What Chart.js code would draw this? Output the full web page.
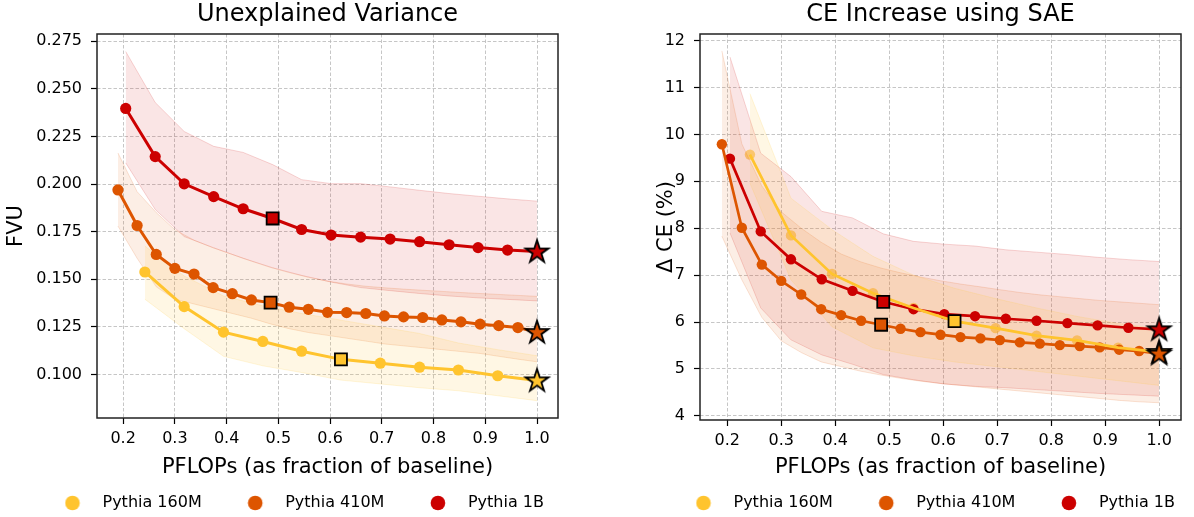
<!DOCTYPE html>
<html lang="en">
<head>
<meta charset="UTF-8">
<title>Unexplained Variance / CE Increase using SAE</title>
<script src="https://cdn.jsdelivr.net/npm/chart.js"></script>
<style>
  body { margin: 0; background: #fff; }
  #wrap { position: relative; width: 1194px; height: 517px; }
  canvas { position: absolute; top: 0; }
  #fvu { left: 0; }
  #ce { left: 597px; }
</style>
</head>
<body>
<div id="wrap">
  <canvas id="fvu" width="597" height="517"></canvas>
  <canvas id="ce" width="597" height="517"></canvas>
</div>
<script>
// ---- data ----
const seriesNames = ['Pythia 160M', 'Pythia 410M', 'Pythia 1B'];
const seriesRGB = [[255, 196, 46], [221, 85, 0], [204, 0, 0]];
const xTicks = [0.2, 0.3, 0.4, 0.5, 0.6, 0.7, 0.8, 0.9, 1.0];
const fvuTicks = [0.100, 0.125, 0.150, 0.175, 0.200, 0.225, 0.250, 0.275];
const ceTicks = [4, 5, 6, 7, 8, 9, 10, 11, 12];

const flops160 = [0.242, 0.318, 0.394, 0.470, 0.545, 0.621, 0.697, 0.773, 0.848, 0.924, 1.0];
const flops410 = [0.190, 0.227, 0.264, 0.300, 0.337, 0.374, 0.411, 0.448, 0.485, 0.521, 0.558, 0.595,
                  0.632, 0.669, 0.705, 0.742, 0.779, 0.816, 0.853, 0.890, 0.926, 0.963, 1.0];
const flops1b = [0.205, 0.262, 0.318, 0.375, 0.432, 0.489, 0.545, 0.602, 0.659, 0.716, 0.773, 0.830, 0.886, 0.943, 1.0];

// index of the square marker in each series (star is always the last point)
const squareIndex = [5, 8, 5];

// FVU
const fvu160 = [0.1538, 0.1356, 0.1222, 0.1173, 0.1122, 0.1079, 0.1059, 0.1038, 0.1023, 0.0993, 0.0968];
const fvu160Lo = [0.1395, 0.1240, 0.1095, 0.1045, 0.1010, 0.0970, 0.0950, 0.0930, 0.0914, 0.0888, 0.0862];
const fvu160Hi = [0.1674, 0.1517, 0.1412, 0.1360, 0.1320, 0.1285, 0.1250, 0.1215, 0.1165, 0.1130, 0.1098];

const fvu410 = [0.1969, 0.1782, 0.1630, 0.1557, 0.1527, 0.1456, 0.1424, 0.1391, 0.1377, 0.1353, 0.1342, 0.1326,
                0.1325, 0.1320, 0.1307, 0.1302, 0.1299, 0.1286, 0.1276, 0.1264, 0.1256, 0.1246, 0.1222];
const fvu410Lo = [0.1779, 0.1610, 0.1460, 0.1395, 0.1370, 0.1345, 0.1320, 0.1295, 0.1265, 0.1240, 0.1220, 0.1205,
                  0.1190, 0.1175, 0.1160, 0.1150, 0.1140, 0.1130, 0.1120, 0.1110, 0.1095, 0.1080, 0.1066];
const fvu410Hi = [0.2163, 0.1960, 0.1850, 0.1760, 0.1705, 0.1665, 0.1630, 0.1595, 0.1562, 0.1535, 0.1510, 0.1490,
                  0.1475, 0.1463, 0.1455, 0.1448, 0.1442, 0.1436, 0.1430, 0.1425, 0.1420, 0.1415, 0.1410];

const fvu1b = [0.2397, 0.2144, 0.2001, 0.1934, 0.1870, 0.1819, 0.1761, 0.1732, 0.1721, 0.1711, 0.1697, 0.1681, 0.1666, 0.1653, 0.1645];
const fvu1bLo = [0.2111, 0.1866, 0.1724, 0.1665, 0.1610, 0.1560, 0.1520, 0.1485, 0.1456, 0.1440, 0.1425, 0.1412, 0.1402, 0.1394, 0.1386];
const fvu1bHi = [0.2696, 0.2428, 0.2276, 0.2198, 0.2166, 0.2102, 0.2023, 0.2002, 0.2002, 0.1985, 0.1967, 0.1950, 0.1936, 0.1922, 0.1910];

// delta CE (%)
const ce160 = [9.569, 7.847, 7.027, 6.614, 6.300, 6.019, 5.870, 5.709, 5.609, 5.454, 5.360];
const ce160Lo = [8.96, 6.90, 5.90, 5.45, 5.28, 5.15, 5.05, 4.95, 4.85, 4.75, 4.65];
const ce160Hi = [10.87, 8.64, 7.97, 7.40, 7.00, 6.72, 6.50, 6.30, 6.12, 5.97, 5.85];

const ce410 = [9.790, 8.011, 7.224, 6.878, 6.587, 6.274, 6.147, 6.028, 5.943, 5.858, 5.785, 5.730,
               5.679, 5.651, 5.615, 5.566, 5.539, 5.509, 5.488, 5.460, 5.411, 5.382, 5.326];
const ce410Lo = [7.83, 6.90, 6.10, 5.60, 5.35, 5.15, 5.05, 4.95, 4.87, 4.80, 4.74, 4.69,
                 4.65, 4.61, 4.57, 4.53, 4.49, 4.45, 4.41, 4.37, 4.33, 4.30, 4.28];
const ce410Hi = [11.78, 9.80, 8.90, 8.35, 8.00, 7.70, 7.45, 7.28, 7.15, 7.05, 6.96, 6.88,
                 6.81, 6.75, 6.69, 6.63, 6.58, 6.54, 6.50, 6.46, 6.43, 6.40, 6.37];

const ce1b = [9.483, 7.932, 7.337, 6.912, 6.665, 6.431, 6.274, 6.168, 6.125, 6.070, 6.028, 5.977, 5.928, 5.879, 5.843];
const ce1bLo = [7.90, 6.30, 5.62, 5.30, 5.10, 4.88, 4.77, 4.68, 4.63, 4.60, 4.56, 4.52, 4.48, 4.45, 4.42];
const ce1bHi = [11.65, 9.60, 9.10, 8.36, 8.22, 7.88, 7.72, 7.66, 7.62, 7.54, 7.49, 7.44, 7.38, 7.33, 7.29];

// ---- helpers ----
Chart.defaults.font.family = '"DejaVu Sans", sans-serif';
Chart.defaults.color = '#000';

const rgba = (c, a) => `rgba(${c[0]},${c[1]},${c[2]},${a})`;
const pts = (xs, ys) => xs.map((x, i) => ({x: x, y: ys[i]}));
const bandAlpha = [0.13, 0.1, 0.1];

function starImage(fill) {
  const c = document.createElement('canvas');
  c.width = 30; c.height = 30;
  const g = c.getContext('2d');
  const R = 12, r = R * 0.382;
  g.beginPath();
  for (let k = 0; k < 10; k++) {
    const rad = k % 2 ? r : R;
    const a = -Math.PI / 2 + k * Math.PI / 5;
    const px = 15 + rad * Math.cos(a), py = 15.5 + rad * Math.sin(a);
    if (k) g.lineTo(px, py); else g.moveTo(px, py);
  }
  g.closePath();
  g.fillStyle = fill;
  g.fill();
  g.lineWidth = 1.8;
  g.lineJoin = 'miter';
  g.strokeStyle = '#000';
  g.stroke();
  return c;
}

function legendDot(fill) {
  const c = document.createElement('canvas');
  c.width = 30; c.height = 16;
  const g = c.getContext('2d');
  g.beginPath();
  g.arc(8, 8, 7.3, 0, 2 * Math.PI);
  g.fillStyle = fill;
  g.fill();
  return c;
}

const framePlugin = {
  id: 'frame',
  afterDatasetsDraw(chart) {
    const {ctx, chartArea: a} = chart;
    ctx.save();
    ctx.strokeStyle = '#222';
    ctx.lineWidth = 1.5;
    ctx.strokeRect(a.left, a.top, a.right - a.left, a.bottom - a.top);
    ctx.restore();
  }
};

function buildChart(id, opt) {
  const datasets = [];
  // shaded min/max bands
  opt.series.forEach((s, k) => {
    const col = seriesRGB[k];
    const lo = datasets.length;
    datasets.push({data: pts(s.xs, s.lo), borderColor: rgba(col, 0.16), borderWidth: 1,
                   pointRadius: 0, fill: false, order: 3});
    datasets.push({data: pts(s.xs, s.hi), borderColor: rgba(col, 0.16), borderWidth: 1,
                   pointRadius: 0, fill: lo, backgroundColor: rgba(col, bandAlpha[k]), order: 3});
  });
  // lines, markers
  opt.series.forEach((s, k) => {
    const col = rgba(seriesRGB[k], 1);
    const last = s.xs.length - 1;
    const sq = squareIndex[k];
    const hide = i => i === sq || i === last;
    datasets.push({
      data: pts(s.xs, s.ys), borderColor: col, borderWidth: opt.lineWidth,
      pointRadius: c => (s.faded || hide(c.dataIndex)) ? 0 : opt.dotRadius,
      pointBackgroundColor: col, pointBorderWidth: 0, fill: false,
      order: s.faded ? 0.5 : 1
    });
    if (s.faded) {
      datasets.push({
        data: pts(s.xs, s.ys), showLine: false,
        pointRadius: c => hide(c.dataIndex) ? 0 : opt.dotRadius,
        pointBackgroundColor: rgba(seriesRGB[k], 0.6), pointBorderWidth: 0, order: 4
      });
    }
    datasets.push({
      data: [{x: s.xs[sq], y: s.ys[sq]}], showLine: false, pointStyle: 'rect', pointRadius: 8.5,
      pointBackgroundColor: col, pointBorderColor: '#000', pointBorderWidth: 1.8, order: 0
    });
    datasets.push({
      data: [{x: s.xs[last], y: s.ys[last]}], showLine: false, pointStyle: starImage(col),
      pointRadius: 12, order: 0.3 - k * 0.1
    });
  });

  const dots = seriesRGB.map(c => legendDot(rgba(c, 1)));
  const legendPad = 45.5;
  const placeLegend = {
    id: 'placeLegend',
    afterLayout(chart) {
      const lg = chart.legend;
      lg.left = opt.legendX - 8 - legendPad;
      lg.right = 3000;
      lg.top = 503 - 8 - legendPad;
      lg.bottom = 517;
    }
  };

  return new Chart(document.getElementById(id), {
    type: 'line',
    data: {datasets: datasets},
    options: {
      responsive: false,
      animation: false,
      devicePixelRatio: 1,
      events: [],
      layout: {padding: {left: 0, right: 597 - opt.area.right, top: 0, bottom: 0}},
      plugins: {
        tooltip: {enabled: false},
        title: {
          display: true, text: opt.title, fullSize: false,
          font: {size: 24, weight: 'normal'}, color: '#000',
          padding: {top: 0, bottom: 34 - 28.8}
        },
        legend: {
          position: 'bottom', align: 'start', maxHeight: 20,
          labels: {
            usePointStyle: true, pointStyleWidth: 30, padding: legendPad,
            font: {size: 16}, color: '#000',
            generateLabels: () => seriesNames.map((t, k) => ({
              text: t, pointStyle: dots[k], fillStyle: rgba(seriesRGB[k], 1),
              strokeStyle: rgba(seriesRGB[k], 1), lineWidth: 0, hidden: false,
              datasetIndex: k, fontColor: '#000'
            }))
          }
        }
      },
      scales: {
        x: {
          type: 'linear', min: 0.1495, max: 1.0405,
          afterBuildTicks: s => { s.ticks = xTicks.map(v => ({value: v})); },
          afterFit: s => { s.height = 517 - opt.area.bottom - s.chart.legend.height; },
          ticks: {font: {size: 16}, color: '#000', padding: 5, callback: v => v.toFixed(1)},
          grid: {color: '#b8b8b8', lineWidth: 0.8, tickColor: '#000', tickLength: 6, tickWidth: 1.2, tickBorderDash: []},
          border: {display: false, dash: [3.5, 2]},
          title: {display: true, text: 'PFLOPs (as fraction of baseline)', font: {size: 21}, color: '#000', padding: {top: 0, bottom: 16.4}}
        },
        y: {
          type: 'linear', min: opt.yMin, max: opt.yMax,
          afterBuildTicks: s => { s.ticks = opt.yTicks.map(v => ({value: v})); },
          afterFit: s => { s.width = opt.area.left; },
          ticks: {font: {size: 16}, color: '#000', padding: 9, callback: opt.yFmt},
          grid: {color: '#b8b8b8', lineWidth: 0.8, tickColor: '#000', tickLength: 6, tickWidth: 1.2, tickBorderDash: []},
          border: {display: false, dash: [3.5, 2]},
          title: {display: true, text: opt.yTitle, font: {size: 21}, color: '#000', padding: {top: opt.yTitlePad, bottom: 0}}
        }
      }
    },
    plugins: [framePlugin, placeLegend]
  });
}

buildChart('fvu', {
  title: 'Unexplained Variance',
  yTitle: 'FVU', yTitlePad: 4.1,
  yMin: 0.0771, yMax: 0.2788, yTicks: fvuTicks, yFmt: v => v.toFixed(3),
  area: {left: 97, right: 558, bottom: 418},
  legendX: 72.5, lineWidth: 3, dotRadius: 5.6,
  series: [
    {xs: flops160, ys: fvu160, lo: fvu160Lo, hi: fvu160Hi},
    {xs: flops410, ys: fvu410, lo: fvu410Lo, hi: fvu410Hi},
    {xs: flops1b, ys: fvu1b, lo: fvu1bLo, hi: fvu1bHi}
  ]
});

buildChart('ce', {
  title: 'CE Increase using SAE',
  yTitle: '\u0394 CE (%)', yTitlePad: 57,
  yMin: 3.912, yMax: 12.14, yTicks: ceTicks, yFmt: v => String(v),
  area: {left: 103, right: 584, bottom: 420},
  legendX: 106.5, lineWidth: 2.7, dotRadius: 5.2,
  series: [
    {xs: flops160, ys: ce160, lo: ce160Lo, hi: ce160Hi, faded: true},
    {xs: flops410, ys: ce410, lo: ce410Lo, hi: ce410Hi},
    {xs: flops1b, ys: ce1b, lo: ce1bLo, hi: ce1bHi}
  ]
});
</script>
</body>
</html>
